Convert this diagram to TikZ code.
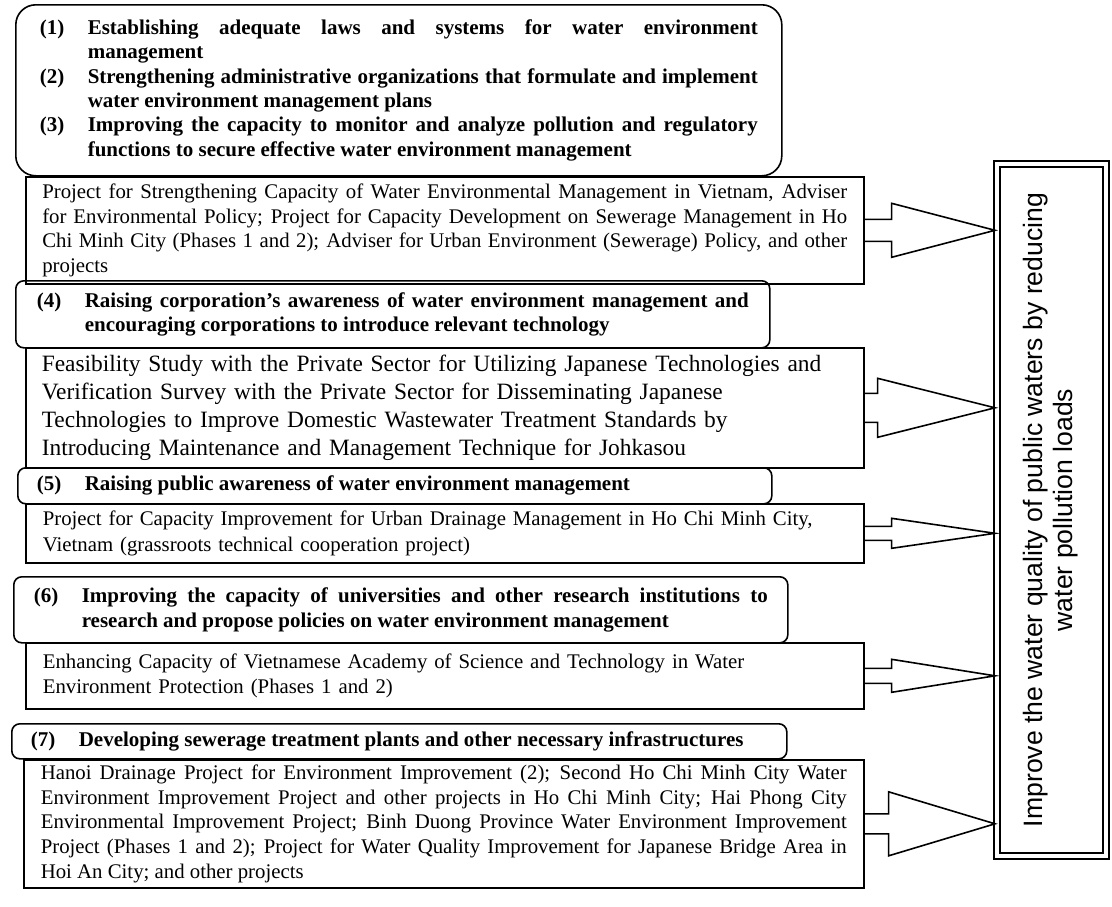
\documentclass[tikz,border=0pt]{standalone}
\usepackage{fontspec}
\setmainfont{Liberation Serif}
\newfontfamily\arialfont{Liberation Sans}
\usepackage{graphicx}
\usetikzlibrary{calc}
\newcommand{\hitem}[2]{\hangindent=24pt\hangafter=1\noindent\makebox[24pt][l]{#1}#2\par}
\begin{document}
\begin{tikzpicture}[x=0.5pt,y=-0.5pt,line width=0.8pt]
	\tikzset{aimbox/.style={draw,rounded corners=4pt,anchor=north west,inner ysep=1pt,align=justify,font=\fontsize{10.5}{12.2}\selectfont\bfseries},
		projbox/.style={draw,anchor=north west,inner ysep=1pt,font=\fontsize{10.4}{12.3}\selectfont},
		blockarr/.style={line width=0.8pt,line join=miter}}
	\useasboundingbox (0,0) rectangle (1112,906);
	\node[aimbox,rounded corners=10pt,minimum width=383pt,minimum height=85.5pt,text width=359pt] (aim123) at (15,4) {\hitem{(1)}{Establishing adequate laws and systems for water environment\linebreak management}\hitem{(2)}{Strengthening administrative organizations that formulate and implement\linebreak water environment management plans}\hitem{(3)}{Improving the capacity to monitor and analyze pollution and regulatory\linebreak functions to secure effective water environment management}};
	\node[projbox,align=justify,minimum width=419pt,minimum height=53.5pt,text width=402.5pt] (pA) at (25,176) {Project for Strengthening Capacity of Water Environmental Management in Vietnam, Adviser\linebreak for Environmental Policy; Project for Capacity Development on Sewerage Management in Ho\linebreak Chi Minh City (Phases 1 and 2); Adviser for Urban Environment (Sewerage) Policy, and other\linebreak projects};
	\node[aimbox,minimum width=377pt,minimum height=33.5pt,text width=356pt] (aim4) at (15,280) {\hitem{(4)}{Raising corporation’s awareness of water environment management and\linebreak encouraging corporations to introduce relevant technology}};
	\node[projbox,align=left,minimum width=419pt,minimum height=60pt,text width=403pt,font=\fontsize{11.7}{13.9}\selectfont] (pB) at (25,347) {Feasibility Study with the Private Sector for Utilizing Japanese Technologies and\\Verification Survey with the Private Sector for Disseminating Japanese\\Technologies to Improve Domestic Wastewater Treatment Standards by\\Introducing Maintenance and Management Technique for Johkasou};
	\node[aimbox,minimum width=377pt,minimum height=18pt,text width=358pt] (aim5) at (17,467) {\hitem{(5)}{Raising public awareness of water environment management}};
	\node[projbox,align=left,minimum width=419pt,minimum height=29.5pt,text width=402pt,font=\fontsize{10.4}{13.15}\selectfont] (pC) at (25,503) {Project for Capacity Improvement for Urban Drainage Management in Ho Chi Minh City,\\Vietnam (grassroots technical cooperation project)};
	\node[aimbox,minimum width=387pt,minimum height=33pt,text width=367pt] (aim6) at (13,576) {\hitem{(6)}{Improving the capacity of universities and other research institutions to\linebreak research and propose policies on water environment management}};
	\node[projbox,align=left,minimum width=419pt,minimum height=33pt,text width=402pt] (pD) at (25,642) {Enhancing Capacity of Vietnamese Academy of Science and Technology in Water\\Environment Protection (Phases 1 and 2)};
	\node[aimbox,minimum width=387.5pt,minimum height=17.5pt,text width=368.5pt] (aim7) at (11,723) {\hitem{(7)}{Developing sewerage treatment plants and other necessary infrastructures}};
	\node[projbox,align=justify,minimum width=420pt,minimum height=64pt,text width=403pt] (pE) at (23,759) {Hanoi Drainage Project for Environment Improvement (2); Second Ho Chi Minh City Water\linebreak Environment Improvement Project and other projects in Ho Chi Minh City; Hai Phong City\linebreak Environmental Improvement Project; Binh Duong Province Water Environment Improvement\linebreak Project (Phases 1 and 2); Project for Water Quality Improvement for Japanese Bridge Area in\linebreak Hoi An City; and other projects};
	\node[draw,double,double distance=2pt,line width=1pt,outer sep=0pt,inner sep=0pt,minimum width=54.5pt,minimum height=346pt,font=\arialfont\fontsize{13.3}{15.2}\selectfont] (goal) at (1051.5,510) {\rotatebox{90}{\begin{tabular}{@{}c@{}}Improve the water quality of public waters by reducing\\water pollution loads\end{tabular}}};
	\foreach \p/\w/\s/\h in {pA/27/11/27,pB/13/14.5/29.5,pC/27/7/15,pD/27/7.5/16.5,pE/24/10/32}
		\draw[blockarr] ($(\p.east)+(0,-\s)$) -- ++(\w,0) -- ++(0,\s-\h) -- ($(goal.west |- \p.east)+(-2,0)$) -- ($(\p.east)+(\w,\h)$) -- ++(0,\s-\h) -- ++(-\w,0);
\end{tikzpicture}
\end{document}
